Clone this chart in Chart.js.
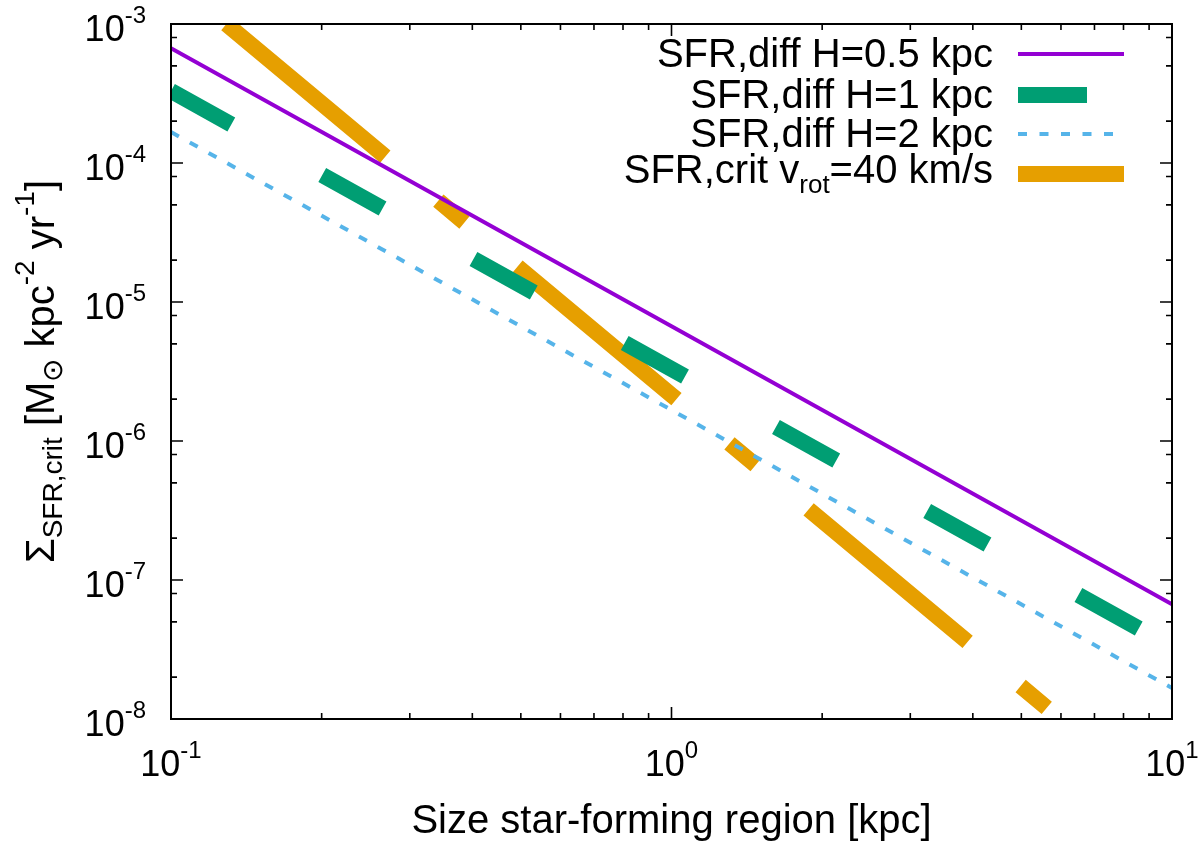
<!DOCTYPE html>
<html>
<head>
<meta charset="utf-8">
<title>Critical SFR surface density</title>
<script src="https://cdn.jsdelivr.net/npm/chart.js@4/dist/chart.umd.min.js"></script>
<style>
  html, body { margin: 0; padding: 0; background: #fff; }
  #plot { display: block; }
</style>
</head>
<body>
<canvas id="plot" width="1200" height="841"></canvas>
<script>
const FONT = '"Liberation Sans", Arial, Helvetica, sans-serif';

// region size in kpc
const sizes = [0.1, 1, 10];
const diffH05 = [6.7e-4, 6.7e-6, 6.7e-8];
const diffH1 = [3.3e-4, 3.3e-6, 3.3e-8];
const diffH2 = [1.67e-4, 1.67e-6, 1.67e-8];
// the v_rot curve leaves the top of the frame near 0.129 kpc
const critSizes = [0.129, 1, 6];
const critV40 = [1e-3, 2.14e-6, 9.9e-9];

const seriesLabels = [
  "SFR,diff H=0.5 kpc",
  "SFR,diff H=1 kpc",
  "SFR,diff H=2 kpc",
  "SFR,crit v_{rot}=40 km/s",
];

const xTickExps = [-1, 0, 1];
const yTickExps = [-8, -7, -6, -5, -4, -3];
const xMinorSteps = [2, 3, 4, 5, 6, 7, 8, 9];
const yMinorSteps = [2, 5, 8];

const xTitle = "Size star-forming region [kpc]";
const yTitle = "\u03a3_{SFR,crit} [M_{\u2299} kpc^{-2} yr^{-1}]";

function toPoints(xs, ys) {
  return xs.map((x, i) => ({ x, y: ys[i] }));
}

// tiny gnuplot-like markup: _{sub} and ^{sup}
function parseRich(str) {
  const parts = [];
  let buf = "";
  let i = 0;
  while (i < str.length) {
    const c = str[i];
    if ((c === "_" || c === "^") && str[i + 1] === "{") {
      if (buf) { parts.push({ text: buf, kind: "n" }); buf = ""; }
      const end = str.indexOf("}", i);
      parts.push({ text: str.slice(i + 2, end), kind: c === "_" ? "sub" : "sup" });
      i = end + 1;
    } else {
      buf += c;
      i += 1;
    }
  }
  if (buf) parts.push({ text: buf, kind: "n" });
  return parts;
}

function drawRich(ctx, str, x, y, style) {
  const { size, small, rise, drop, align } = style;
  const parts = parseRich(str);
  let total = 0;
  for (const p of parts) {
    ctx.font = `${p.kind === "n" ? size : small}px ${FONT}`;
    p.w = ctx.measureText(p.text).width;
    total += p.w;
  }
  let cx = x;
  if (align === "right") cx = x - total;
  else if (align === "center") cx = x - total / 2;
  ctx.textAlign = "left";
  ctx.textBaseline = "alphabetic";
  for (const p of parts) {
    ctx.font = `${p.kind === "n" ? size : small}px ${FONT}`;
    let dy = 0;
    if (p.kind === "sup") dy = -rise;
    if (p.kind === "sub") dy = drop;
    ctx.fillText(p.text, cx, y + dy);
    cx += p.w;
  }
}

const frame = {
  id: "frame",
  afterDraw(chart) {
    const { ctx, chartArea: a, scales } = chart;
    const xs = scales.x;
    const ys = scales.y;
    ctx.save();
    ctx.strokeStyle = "#000";
    ctx.fillStyle = "#000";

    // ticks on all four sides, pointing inward
    ctx.lineWidth = 1.6;
    ctx.beginPath();
    for (const e of xTickExps) {
      const px = xs.getPixelForValue(10 ** e);
      ctx.moveTo(px, a.bottom); ctx.lineTo(px, a.bottom - 12);
      ctx.moveTo(px, a.top); ctx.lineTo(px, a.top + 12);
      if (e === xTickExps[xTickExps.length - 1]) continue;
      for (const m of xMinorSteps) {
        const mx = xs.getPixelForValue(m * 10 ** e);
        ctx.moveTo(mx, a.bottom); ctx.lineTo(mx, a.bottom - 6);
        ctx.moveTo(mx, a.top); ctx.lineTo(mx, a.top + 6);
      }
    }
    for (const e of yTickExps) {
      const py = ys.getPixelForValue(10 ** e);
      ctx.moveTo(a.left, py); ctx.lineTo(a.left + 12, py);
      ctx.moveTo(a.right, py); ctx.lineTo(a.right - 12, py);
      if (e === yTickExps[yTickExps.length - 1]) continue;
      for (const m of yMinorSteps) {
        const my = ys.getPixelForValue(m * 10 ** e);
        ctx.moveTo(a.left, my); ctx.lineTo(a.left + 6, my);
        ctx.moveTo(a.right, my); ctx.lineTo(a.right - 6, my);
      }
    }
    ctx.stroke();

    ctx.lineWidth = 2;
    ctx.strokeRect(a.left, a.top, a.right - a.left, a.bottom - a.top);

    // tick labels
    const tickStyle = { size: 36, small: 24, rise: 18, drop: 8 };
    for (const e of xTickExps) {
      const px = xs.getPixelForValue(10 ** e);
      drawRich(ctx, `10^{${e}}`, px, a.bottom + 57, { ...tickStyle, align: "center" });
    }
    for (const e of yTickExps) {
      const py = ys.getPixelForValue(10 ** e);
      drawRich(ctx, `10^{${e}}`, a.left - 25, py + 17, { ...tickStyle, align: "right" });
    }

    // axis titles
    const titleStyle = { size: 40, small: 28, rise: 20, drop: 8 };
    drawRich(ctx, xTitle, (a.left + a.right) / 2, 833, { ...titleStyle, align: "center" });
    ctx.save();
    ctx.translate(54, (a.top + a.bottom) / 2);
    ctx.rotate(-Math.PI / 2);
    drawRich(ctx, yTitle, 0, 0, { ...titleStyle, align: "center" });
    ctx.restore();

    // key, top right inside the frame
    const rowY = [54, 95, 134, 174];
    const baseY = [67, 108, 147, 183];
    chart.data.datasets.forEach((ds, i) => {
      drawRich(ctx, seriesLabels[i], 993, baseY[i], {
        size: 40, small: 26, rise: 18, drop: 10, align: "right",
      });
      ctx.save();
      ctx.strokeStyle = ds.borderColor;
      ctx.lineWidth = ds.borderWidth;
      ctx.setLineDash(ds.borderDash || []);
      ctx.lineCap = "butt";
      ctx.beginPath();
      ctx.moveTo(1018, rowY[i]);
      ctx.lineTo(1124, rowY[i]);
      ctx.stroke();
      ctx.restore();
    });
    ctx.restore();
  },
};

new Chart(document.getElementById("plot"), {
  type: "scatter",
  data: {
    datasets: [
      {
        label: seriesLabels[0],
        data: toPoints(sizes, diffH05),
        borderColor: "#9400d3",
        borderWidth: 4,
      },
      {
        label: seriesLabels[1],
        data: toPoints(sizes, diffH1),
        borderColor: "#009e73",
        borderWidth: 16,
        borderDash: [69, 104],
      },
      {
        label: seriesLabels[2],
        data: toPoints(sizes, diffH2),
        borderColor: "#56b4e9",
        borderWidth: 4,
        borderDash: [9, 12.5],
      },
      {
        label: seriesLabels[3],
        data: toPoints(critSizes, critV40),
        borderColor: "#e69f00",
        borderWidth: 16,
        borderDash: [207, 69, 34, 69],
      },
    ].map((ds) => ({
      ...ds,
      showLine: true,
      pointRadius: 0,
      pointHoverRadius: 0,
      tension: 0,
      borderCapStyle: "butt",
      backgroundColor: ds.borderColor,
    })),
  },
  options: {
    responsive: false,
    animation: false,
    devicePixelRatio: 1,
    events: [],
    layout: { padding: { left: 171, right: 28, top: 24, bottom: 122 } },
    scales: {
      x: { type: "logarithmic", min: 0.1, max: 10, display: false },
      y: { type: "logarithmic", min: 1e-8, max: 1e-3, display: false },
    },
    plugins: {
      legend: { display: false },
      tooltip: { enabled: false },
    },
  },
  plugins: [frame],
});
</script>
</body>
</html>
